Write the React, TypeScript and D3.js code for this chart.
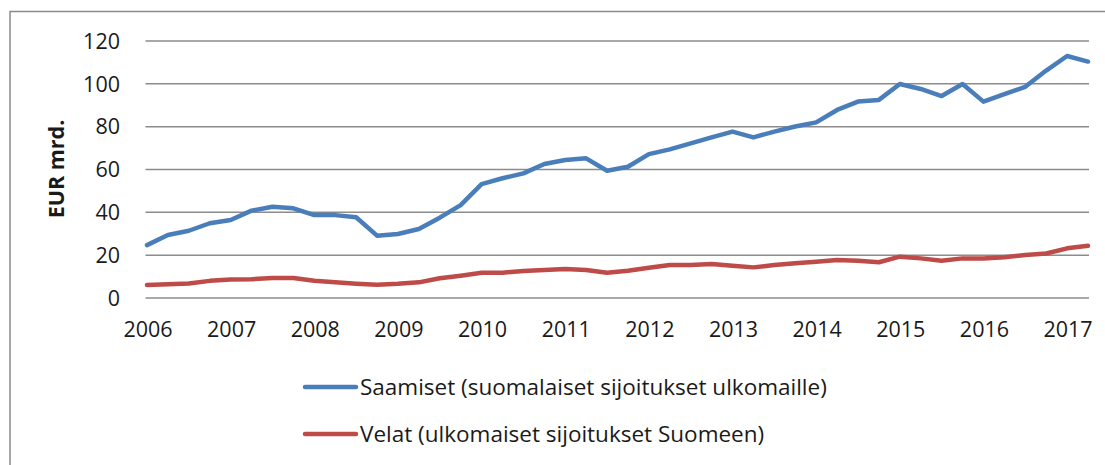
import React, { useEffect, useRef } from 'react';
import { select, scaleLinear, line } from 'd3';

// quarterly, 2006Q1 .. 2017Q2
const years = ['2006', '2007', '2008', '2009', '2010', '2011', '2012', '2013', '2014', '2015', '2016', '2017'];
const yTicks = [0, 20, 40, 60, 80, 100, 120];

const saamiset = [
  24.7, 29.4, 31.4, 34.9, 36.4, 40.8, 42.6, 41.9, 38.7, 38.7, 37.7, 29.1,
  29.9, 32.2, 37.5, 43.4, 53.2, 55.9, 58.2, 62.6, 64.4, 65.2, 59.4, 61.3,
  67.2, 69.4, 72.2, 75.0, 77.7, 75.0, 77.7, 80.1, 82.0, 87.8, 91.7, 92.5,
  99.9, 97.6, 94.3, 99.9, 91.7, 95.2, 98.6, 106.2, 113.0, 110.4
];
const velat = [
  6.1, 6.4, 6.8, 8.0, 8.6, 8.8, 9.3, 9.3, 8.1, 7.4, 6.7, 6.2,
  6.6, 7.3, 9.2, 10.4, 11.8, 11.8, 12.6, 13.1, 13.5, 13.1, 11.8, 12.7,
  14.1, 15.4, 15.4, 15.9, 15.1, 14.3, 15.4, 16.2, 16.9, 17.7, 17.4, 16.7,
  19.3, 18.5, 17.4, 18.5, 18.5, 19.0, 20.1, 20.8, 23.2, 24.4
];

const seriesNames = [
  'Saamiset (suomalaiset sijoitukset ulkomaille)',
  'Velat (ulkomaiset sijoitukset Suomeen)'
];
const colors = ['#4a7ebb', '#be4b48'];

const canvasWidth = 1105;
const canvasHeight = 465;
const font = '"Open Sans", sans-serif';

function App() {
  const svgRef = useRef(null);

  useEffect(() => {
    const svg = select(svgRef.current);
    svg.selectAll('*').remove();

    const x = scaleLinear().domain([0, saamiset.length - 1]).range([147, 1088]);
    const y = scaleLinear().domain([0, 120]).range([298, 41]);

    // outer frame (right and bottom sides fall outside the picture)
    svg.append('rect')
      .attr('x', 10).attr('y', 11.5)
      .attr('width', 1200).attr('height', 600)
      .attr('fill', 'none')
      .attr('stroke', '#8a8a8a')
      .attr('stroke-width', 1.5);

    // grid
    svg.append('g')
      .selectAll('line')
      .data(yTicks)
      .enter()
      .append('line')
      .attr('x1', 145.5)
      .attr('x2', 1089)
      .attr('y1', d => y(d))
      .attr('y2', d => y(d))
      .attr('stroke', '#8c8c8c')
      .attr('stroke-width', 1.5);

    svg.append('g')
      .selectAll('text')
      .data(yTicks)
      .enter()
      .append('text')
      .attr('x', 120)
      .attr('y', d => y(d))
      .attr('dy', '0.36em')
      .attr('text-anchor', 'end')
      .style('font-family', font)
      .style('font-size', '21.5px')
      .attr('fill', '#1a1a1a')
      .text(d => d);

    svg.append('g')
      .selectAll('text')
      .data(years)
      .enter()
      .append('text')
      .attr('x', (d, i) => x(i * 4) + 1)
      .attr('y', 337)
      .attr('text-anchor', 'middle')
      .style('font-family', font)
      .style('font-size', '21.5px')
      .attr('fill', '#1a1a1a')
      .text(d => d);

    svg.append('text')
      .attr('transform', 'translate(56, 169) rotate(-90)')
      .attr('dy', '0.36em')
      .attr('text-anchor', 'middle')
      .style('font-family', font)
      .style('font-size', '21.5px')
      .style('font-weight', 'bold')
      .attr('fill', '#1a1a1a')
      .text('EUR mrd.');

    const path = line<number>()
      .x((d, i) => x(i))
      .y(d => y(d));

    [saamiset, velat].forEach((s, k) => {
      svg.append('path')
        .attr('d', path(s))
        .attr('fill', 'none')
        .attr('stroke', colors[k])
        .attr('stroke-width', 4.5)
        .attr('stroke-linejoin', 'round')
        .attr('stroke-linecap', 'round');
    });

    // legend
    const legend = svg.append('g');
    seriesNames.forEach((name, k) => {
      const ly = 387 + k * 47;
      legend.append('line')
        .attr('x1', 305).attr('x2', 356)
        .attr('y1', ly).attr('y2', ly)
        .attr('stroke', colors[k])
        .attr('stroke-width', 4.5)
        .attr('stroke-linecap', 'round');
      legend.append('text')
        .attr('x', 360)
        .attr('y', ly)
        .attr('dy', '0.36em')
        .style('font-family', font)
        .style('font-size', '22.5px')
        .attr('fill', '#1a1a1a')
        .text(name);
    });
  }, []);

  return (
    <svg
      ref={svgRef}
      width={canvasWidth}
      height={canvasHeight}
      style={{ position: 'absolute', left: 0, top: 0, background: '#fff' }}
    />
  );
}

export default App;
